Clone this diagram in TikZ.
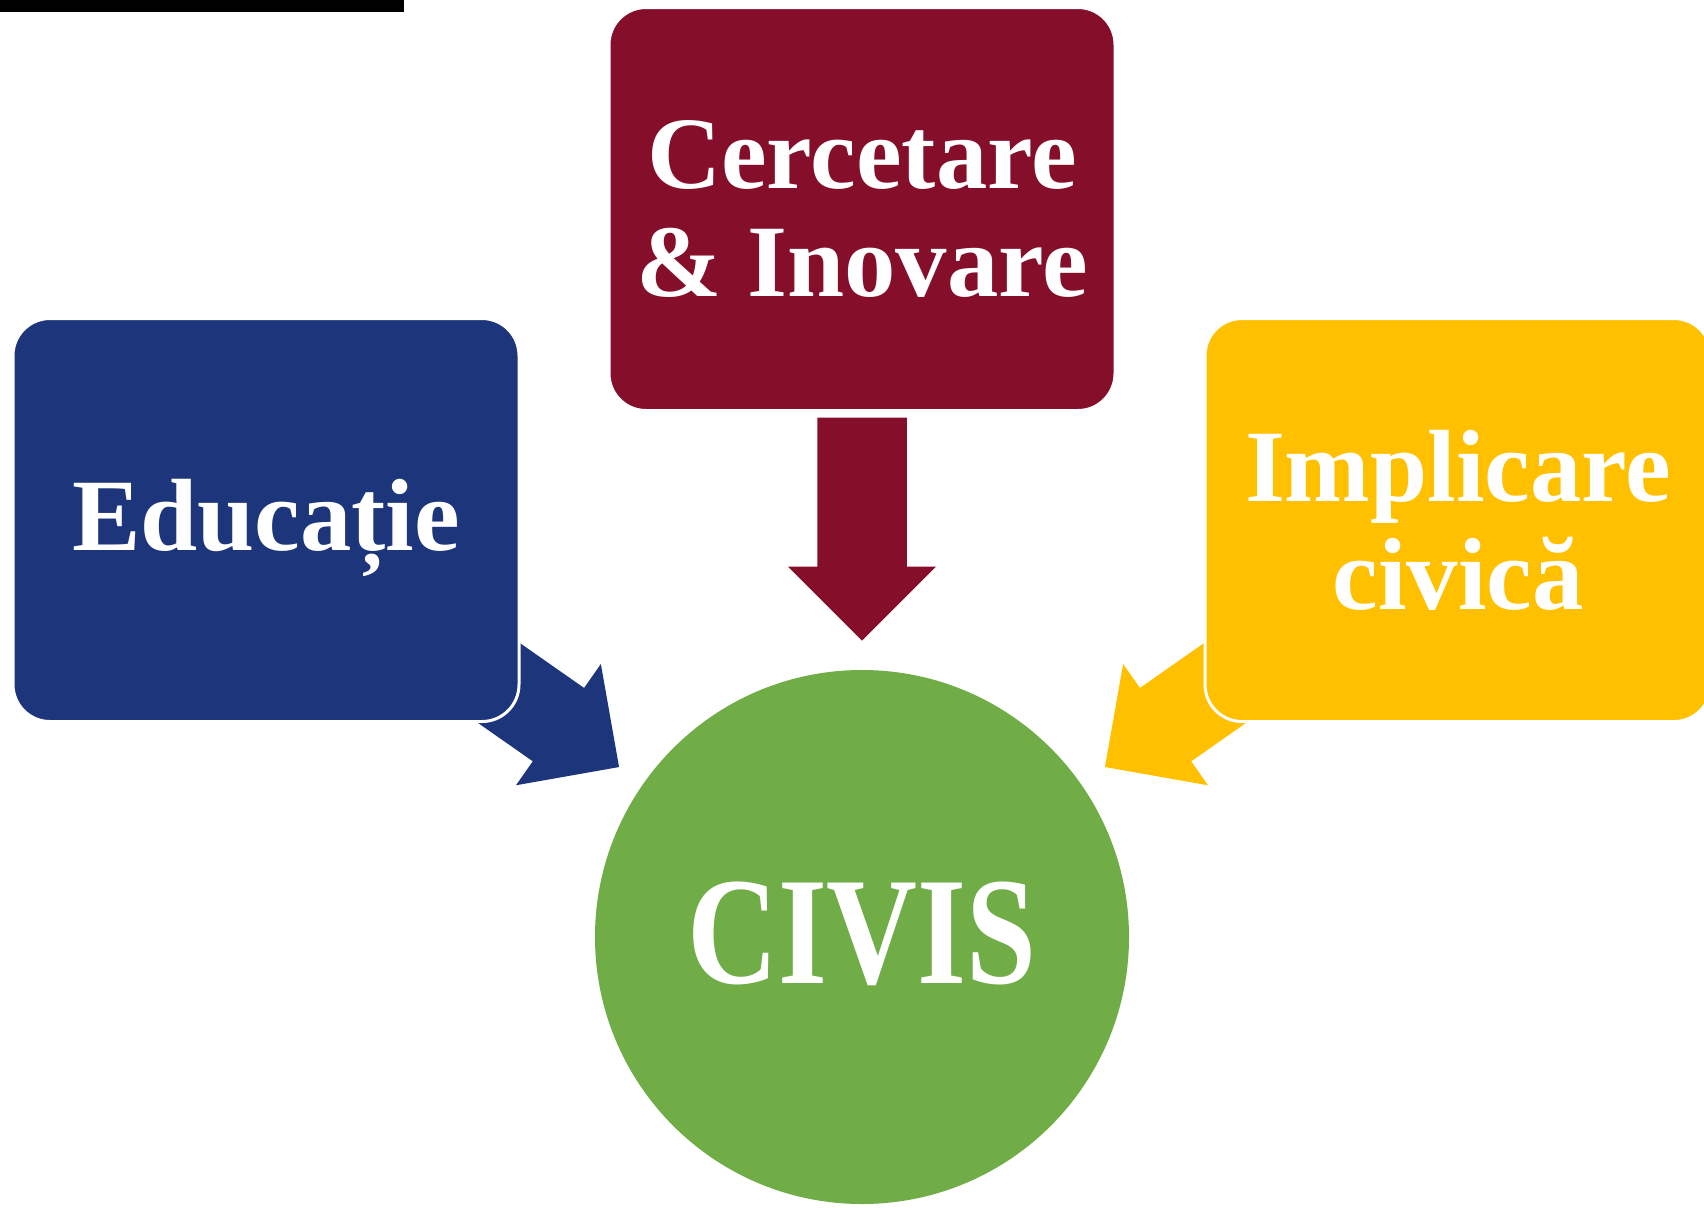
\documentclass[tikz,border=0pt]{standalone}
\usepackage{fontspec}
\setmainfont{Liberation Serif}
\usetikzlibrary{calc,backgrounds}
\definecolor{eduC}{HTML}{1D357B}
\definecolor{cerC}{HTML}{850E2B}
\definecolor{impC}{HTML}{FFC000}
\definecolor{civC}{HTML}{70AD47}
\begin{document}
\begin{tikzpicture}[x=0.5pt,y=-0.5pt,line join=round,
	box/.style={rectangle,rounded corners=18.5pt,minimum width=253pt,minimum height=201.5pt,
		draw=white,line width=1.5pt,inner sep=0pt,outer sep=0pt,text=white,align=center,
		font=\bfseries\fontsize{51.35pt}{54pt}\selectfont}]
	\useasboundingbox (0,0) rectangle (1704,1207);
	\fill (0,0) rectangle (404,12);
	\node[box,fill=eduC,text height=41pt,text depth=10.3pt] (edu) at (266,520) {Educație};
	\node[box,fill=cerC] (cer) at (862,209) {Cercetare\\\& Inovare};
	\node[box,fill=impC] (imp) at (1458,520) {Implicare\\civică};
	\node[circle,fill=civC,minimum size=267pt,inner sep=0pt,outer sep=0pt,text=white,
		font=\bfseries\fontsize{76.7pt}{80pt}\selectfont,text height=52pt,text depth=5.7pt] (civis) at (862,937) {\scalebox{.82}[1]{CIVIS}};
	\begin{pgfonlayer}{background}
	\foreach \src/\col/\back in {cer/cerC/259.75pt,edu/eduC/330pt,imp/impC/330pt}{
		\coordinate (tip) at ($(civis)!148.25pt!(\src)$);
		\coordinate (hb) at ($(civis)!185.25pt!(\src)$);
		\coordinate (tl) at ($(civis)!\back!(\src)$);
		\fill[\col] (tip) -- ($(hb)!37pt!90:(civis)$) -- ($(hb)!22.375pt!90:(civis)$)
			-- ($(tl)!22.375pt!90:(civis)$) -- ($(tl)!22.375pt!-90:(civis)$)
			-- ($(hb)!22.375pt!-90:(civis)$) -- ($(hb)!37pt!-90:(civis)$) -- cycle;
	}
	\end{pgfonlayer}
\end{tikzpicture}
\end{document}
